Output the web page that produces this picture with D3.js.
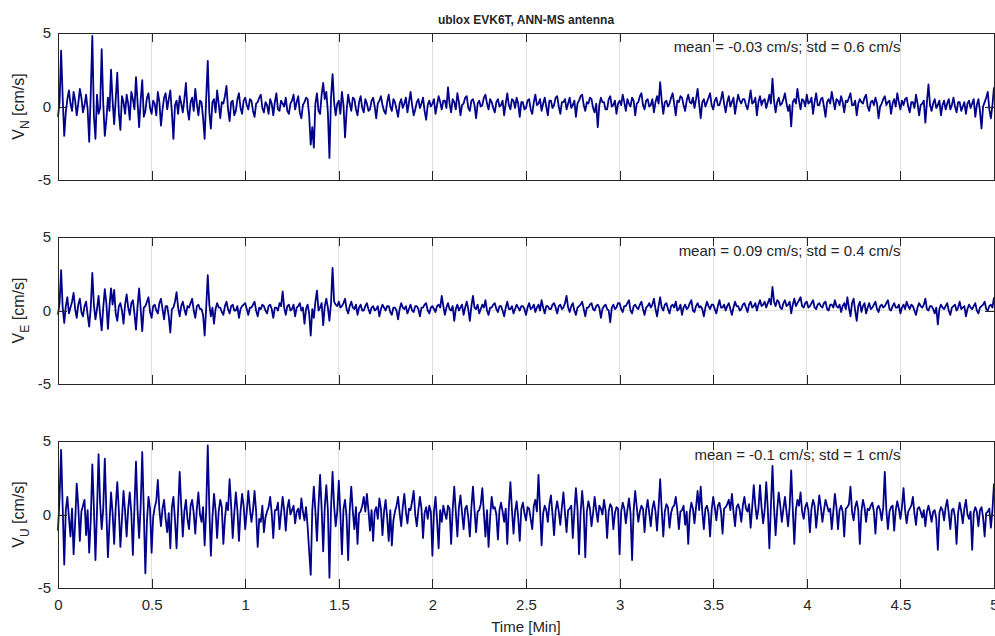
<!DOCTYPE html>
<html><head><meta charset="utf-8">
<script src="https://cdn.jsdelivr.net/npm/d3@7"></script>
<style>
body{margin:0;background:#fff}
svg text{font-family:"Liberation Sans",Arial,Helvetica,sans-serif;fill:#262626}
</style></head>
<body><svg id="c" width="995" height="636"></svg>
<script>
// ---- data ----
const sampleStepSeconds = 0.5; // samples every 0.5 s, 0..300 s
const xTicks = [0, 0.5, 1, 1.5, 2, 2.5, 3, 3.5, 4, 4.5, 5];
const xTickLabels = ["0","0.5","1","1.5","2","2.5","3","3.5","4","4.5","5"];
const yTicks = [-5, 0, 5];
const yTickLabels = ["-5","0","5"];
const titleText = "ublox EVK6T, ANN-MS antenna";
const xLabel = "Time [Min]";
const seriesNames = ["N", "E", "U"];
const statTexts = ["mean = -0.03 cm/s; std = 0.6 cm/s", "mean = 0.09 cm/s; std = 0.4 cm/s", "mean = -0.1 cm/s; std = 1 cm/s"];

const vN = [
-0.7,0.3,3.8,0.6,-2.0,-0.4,0.5,1.1,0.2,-0.3,1.0,0.4,-0.6,0.2,1.2,0.6,-0.4,0.1,0.8,-0.2,
-2.4,0.9,4.8,-0.6,-2.2,0.8,-0.5,-0.1,3.9,0.2,-2.0,-0.9,0.6,-0.3,2.5,0.4,-1.2,0.5,2.3,-0.4,
-1.6,0.7,0.3,-0.5,0.8,0.2,-0.9,1.0,0.5,-0.2,2.0,0.3,-1.4,0.4,1.8,-0.7,-0.3,0.6,0.9,-0.1,
-0.5,0.4,0.2,-0.6,1.0,0.3,-1.3,-0.2,0.6,0.9,-0.2,0.5,1.1,-0.4,-2.2,0.1,0.4,-0.5,0.7,0.2,
-0.4,0.5,1.6,-0.2,-0.9,0.3,0.6,-0.3,1.2,0.2,-0.6,0.4,0.3,-0.8,-2.2,0.6,3.1,-0.4,-1.5,0.3,
0.5,-0.4,1.1,0.2,-0.8,0.3,0.2,0.7,1.4,-0.2,-1.0,0.3,0.4,-0.6,-0.3,0.5,0.9,-0.1,-0.5,0.4,
0.6,0.1,-0.2,0.5,0.4,-0.3,-0.7,0.2,0.3,0.6,0.8,-0.1,-0.4,0.3,0.1,-0.5,0.5,0.2,-0.6,0.3,
0.9,-0.2,-0.3,0.4,0.2,0.0,0.6,-0.3,-0.5,0.2,0.4,0.8,-0.2,0.3,0.7,-0.4,-0.8,0.1,0.3,0.6,
0.5,-0.6,-2.6,-1.4,-2.8,0.2,0.9,-0.3,-0.5,0.8,1.6,0.5,1.0,-0.4,-3.5,0.6,2.2,0.3,-0.6,0.2,
0.4,-0.5,1.0,0.1,-2.1,-0.3,0.8,0.2,-0.3,0.6,0.5,-0.2,-0.6,0.3,0.7,-0.1,-0.4,0.5,0.2,-0.3,
-0.2,0.4,0.6,0.0,-0.8,0.2,0.4,0.7,0.1,-0.3,-0.5,0.3,0.8,0.0,-0.3,0.5,0.3,-0.2,-0.7,0.2,
0.5,-0.1,0.2,0.6,-0.4,0.3,1.0,0.1,-0.6,-0.2,0.3,0.5,-0.1,0.2,0.6,-0.3,-0.9,0.1,0.4,0.0,
0.2,0.5,-0.5,0.1,0.7,0.3,-0.2,0.4,0.4,-0.1,1.3,0.2,-0.4,0.5,0.3,-0.2,0.9,0.3,-0.6,0.1,
0.2,0.6,0.7,-0.1,-0.3,0.4,0.5,0.1,-0.8,0.2,0.4,0.0,0.1,0.6,0.8,0.2,-0.2,0.5,0.3,-0.1,
-0.4,0.3,0.5,0.0,0.1,0.4,-0.6,0.2,0.9,0.1,-0.2,0.5,0.4,-0.1,0.6,0.2,-0.7,0.3,0.3,-0.2,
-0.1,0.4,0.5,-0.2,-0.5,0.3,0.8,0.1,0.2,0.5,-0.3,0.2,0.6,0.0,-0.6,0.4,0.4,-0.1,0.1,0.6,
0.7,0.0,-0.5,0.3,0.3,0.5,-0.2,0.2,0.6,-0.1,0.1,0.4,-0.7,0.2,0.4,0.7,0.8,0.1,-0.3,0.3,
0.2,0.6,0.5,-0.1,-0.4,0.2,-1.4,0.1,0.6,0.3,0.3,-0.2,-0.2,0.5,0.7,0.0,0.1,0.4,-0.5,0.2,
0.4,0.1,0.8,0.3,-0.3,0.5,0.2,0.0,0.6,0.4,-0.6,0.2,0.3,0.7,0.9,0.1,-0.2,0.4,0.5,0.0,
0.1,0.5,-0.4,0.3,0.7,0.2,1.65,0.4,-0.5,0.3,0.4,0.0,0.2,0.6,0.9,0.2,-0.6,0.4,0.3,0.7,
0.6,0.1,-0.3,0.4,0.8,0.3,0.2,0.6,-0.1,0.5,1.2,0.2,-0.8,0.3,0.5,0.0,0.3,0.6,0.9,0.1,
-0.2,0.4,0.6,0.1,0.1,0.5,1.0,0.2,-0.4,0.3,0.7,0.0,0.3,0.6,-0.5,0.2,0.8,0.4,0.2,0.5,
0.5,0.1,-0.2,0.4,1.1,0.2,0.3,0.6,-0.6,0.3,0.7,0.1,0.4,0.5,-0.1,0.3,0.8,0.2,1.9,0.4,
-0.4,0.3,0.6,0.1,0.2,0.5,0.9,0.2,-0.3,0.1,-1.35,0.3,0.5,0.2,1.2,0.4,-0.2,0.5,0.4,0.0,
0.8,0.2,0.3,0.6,-0.5,0.3,0.9,0.1,0.1,0.5,0.6,0.0,-0.7,0.3,0.5,0.2,1.0,0.4,-0.2,0.5,
0.4,0.1,0.7,0.3,-0.4,0.4,0.3,0.6,0.9,0.1,0.1,0.4,-0.6,0.2,0.5,0.3,0.2,0.6,0.8,0.0,
-0.3,0.3,0.4,0.1,0.6,0.2,-0.8,0.0,0.2,0.5,0.7,0.1,0.3,0.4,-0.5,0.2,0.5,0.0,0.9,0.3,
-0.2,0.4,0.1,0.5,0.6,0.0,-0.4,0.3,0.3,-0.1,0.8,0.2,-0.6,0.1,0.2,0.4,-1.1,0.3,1.5,0.1,
-0.3,0.2,0.5,-0.1,0.1,0.4,-0.6,0.1,0.4,-0.2,0.2,0.5,-0.2,0.1,0.6,0.0,-0.4,0.3,0.3,-0.3,
0.0,0.3,-0.5,0.2,0.4,-0.1,0.2,0.5,-0.7,0.1,0.5,-0.3,-1.5,0.0,0.3,0.6,1.0,-0.2,-0.8,0.1,
1.3];

const vE = [
-0.3,0.5,2.75,0.2,-0.85,0.3,0.9,-0.2,0.2,0.6,1.2,0.1,-0.5,0.4,0.8,-0.1,-0.4,0.3,0.6,-0.3,
-1.1,0.2,2.55,0.4,-0.6,0.1,1.0,-0.3,-1.35,0.2,1.45,0.5,-1.25,0.3,1.5,0.4,1.4,-0.2,-0.7,0.3,
0.5,0.0,-0.9,0.4,1.1,0.2,-0.3,0.5,0.7,-0.2,-1.3,0.3,1.5,0.1,-1.4,0.2,0.3,0.6,0.9,-0.1,
-0.5,0.3,0.4,0.0,-0.2,0.5,0.8,0.1,-0.6,0.3,0.3,-0.4,-1.5,0.1,0.2,0.6,1.25,0.2,-0.4,0.3,
0.6,0.1,-0.3,0.3,0.2,0.5,0.8,0.0,-0.5,0.3,0.4,0.1,0.1,-0.3,-1.7,0.2,2.4,0.4,-0.4,0.2,
-0.9,0.1,0.5,0.2,0.2,-0.1,-0.3,0.3,0.6,0.1,-0.2,0.3,0.4,0.0,0.0,0.3,-0.5,0.1,0.3,0.4,
0.5,0.1,-0.3,0.2,0.2,0.4,0.6,0.0,-0.4,0.2,0.1,0.4,0.3,0.0,-0.2,0.3,0.4,0.1,-0.5,0.2,
0.2,0.0,0.5,0.3,1.3,0.2,-0.3,0.3,0.4,0.0,0.1,0.4,-0.4,0.2,0.3,0.5,0.0,0.2,-0.9,0.1,
0.4,-0.2,-1.7,0.1,-0.5,0.6,1.35,0.0,0.2,0.5,-1.0,0.3,0.8,0.2,-0.7,0.5,2.9,0.6,0.4,0.3,
0.6,0.2,0.3,0.5,0.8,0.1,-0.2,0.3,0.6,0.2,0.1,0.4,-0.3,0.2,0.4,0.0,0.0,0.3,0.5,0.1,
-0.2,0.2,0.3,0.0,0.1,0.3,-0.4,0.1,0.4,0.2,0.0,0.3,0.3,-0.1,-0.3,0.2,0.2,0.0,-0.6,0.1,
0.5,0.2,0.1,0.3,-0.2,0.1,0.4,0.0,-0.1,0.3,0.3,0.1,-0.4,0.2,0.2,0.4,0.5,0.0,-0.2,0.2,
0.3,0.1,-0.1,0.3,0.4,0.2,1.0,0.3,-0.3,0.2,0.5,0.1,0.0,0.3,-0.7,0.1,0.4,0.0,0.2,0.4,
-0.3,0.2,0.6,0.1,-0.7,0.3,1.0,0.2,0.1,0.4,-0.2,0.1,0.4,0.2,0.7,0.0,-0.3,0.2,0.2,0.4,
0.5,0.1,-0.1,0.3,0.3,0.0,-0.4,0.2,0.6,0.1,0.1,0.3,-0.2,0.1,0.4,0.2,0.0,0.3,0.3,0.1,
-0.3,0.2,0.5,0.1,0.2,0.4,-0.1,0.2,0.4,0.0,0.7,0.2,-0.2,0.3,0.3,0.1,0.1,0.4,0.5,0.2,
-0.2,0.3,0.4,0.1,0.2,0.5,1.0,0.2,-0.1,0.3,0.5,0.0,-0.3,0.2,0.3,0.4,0.6,0.1,-0.4,0.2,
0.2,0.4,0.5,0.1,0.0,0.3,0.4,0.2,-0.5,0.1,0.3,0.4,0.1,0.0,-0.8,0.2,0.4,0.1,0.2,0.5,
0.5,0.1,-0.1,0.3,0.3,0.5,0.7,0.0,-0.2,0.3,0.4,0.2,0.1,0.4,0.6,0.1,-0.3,0.2,0.3,0.5,
0.2,0.4,0.8,0.1,-0.4,0.3,0.9,0.2,0.0,0.4,0.5,0.1,-0.2,0.3,0.4,0.2,0.6,0.0,0.1,0.4,
-0.3,0.2,0.4,0.1,0.2,0.5,0.7,0.0,-0.1,0.3,0.5,0.2,0.3,0.1,-0.4,0.2,0.6,0.3,0.1,0.4,
0.4,0.1,-0.2,0.3,0.7,0.2,0.2,0.4,0.0,0.3,0.5,0.1,-0.3,0.2,0.6,0.3,0.3,0.0,0.1,0.4,
0.5,0.2,-0.1,0.4,0.6,0.2,0.3,0.5,0.0,0.4,0.7,0.3,0.4,0.6,0.2,0.5,0.8,0.4,1.6,0.6,
0.3,0.7,0.6,0.2,0.1,0.5,0.7,0.3,0.4,0.6,-0.2,0.4,0.8,0.3,0.5,0.7,0.9,0.3,0.2,0.5,
0.6,0.2,0.3,0.5,0.7,0.2,0.1,0.4,0.5,0.3,0.2,0.5,0.6,0.1,0.0,0.4,0.4,0.2,0.7,0.3,
0.2,0.4,-0.1,0.3,0.5,0.1,0.9,0.2,-0.4,0.5,0.8,0.0,-0.7,0.3,0.6,-0.1,0.3,0.5,-0.2,0.2,
0.5,0.1,0.2,0.4,0.6,0.1,-0.1,0.3,0.4,0.2,0.3,0.5,0.7,0.1,0.0,0.3,0.5,0.2,0.2,0.4,
-0.2,0.2,0.4,0.1,0.6,0.3,0.1,0.4,0.3,0.0,-0.3,0.2,0.5,0.3,0.2,0.4,0.8,0.1,0.0,0.3,
0.3,0.1,-0.2,0.2,-0.95,0.1,0.4,0.2,0.1,0.3,0.5,0.0,-0.3,0.2,0.3,0.4,0.0,0.2,0.6,0.1,
0.2,0.3,-0.4,0.1,0.4,0.2,0.1,0.3,0.5,0.0,-0.2,0.2,0.3,0.4,0.6,0.1,0.0,0.3,0.4,0.2,
0.9];

const vU = [
-1.1,1.2,4.4,0.5,-3.4,0.3,1.2,-0.2,-1.5,0.4,-2.7,-0.5,2.1,0.6,-1.8,0.2,0.6,1.0,-1.4,0.3,
-2.6,-0.4,3.4,0.5,-3.1,0.2,4.1,0.8,-1.0,0.4,3.8,0.2,-2.9,-0.6,1.5,0.1,-2.0,0.5,2.2,0.3,
-2.2,-0.3,1.6,0.2,-1.5,0.4,1.5,0.1,-2.75,0.5,3.6,0.3,-1.6,0.6,4.25,0.2,-4.0,-0.5,1.2,0.4,
-2.6,-0.2,0.5,0.9,2.35,0.3,-0.8,0.4,1.0,-0.3,-1.2,0.1,-2.3,0.5,1.2,-0.4,-2.3,0.3,2.9,0.6,
-1.5,0.2,1.0,-0.3,-1.0,0.6,1.0,0.1,-1.3,0.4,1.5,0.0,-0.5,0.5,-2.1,0.3,4.7,0.4,-2.8,-0.2,
1.4,0.3,-1.6,0.2,1.0,0.5,-2.0,-0.3,0.8,0.3,2.4,0.6,-1.6,0.1,1.5,0.3,-1.8,0.2,1.4,0.6,
-1.0,0.2,1.6,0.4,-0.5,0.3,1.6,0.2,-2.2,-0.3,-0.5,0.6,-1.2,-0.2,0.2,0.5,1.2,0.1,-1.6,0.3,
0.3,0.8,-1.0,0.1,1.2,0.3,-1.1,0.4,1.0,0.0,0.3,0.6,-0.6,0.2,0.4,-0.3,1.1,0.2,-0.4,0.5,
-0.8,-2.5,-4.1,0.3,1.9,0.2,-1.8,0.6,2.7,0.4,-2.5,0.5,2.0,0.3,-4.3,0.4,2.9,0.6,-0.8,0.2,
2.3,0.1,-2.7,0.4,1.0,-0.2,-3.1,0.3,1.9,0.2,-1.0,0.5,-2.0,0.1,0.2,0.6,1.2,0.2,1.4,0.3,
-1.1,0.3,-1.8,0.2,0.5,-0.3,1.1,0.4,-1.4,0.2,1.0,-0.2,-1.8,0.3,-2.1,-0.4,0.2,0.6,1.2,0.1,
-0.8,0.5,1.4,0.2,-0.6,0.4,0.3,0.9,1.6,0.0,-0.8,0.3,1.2,0.4,-1.6,0.1,0.5,-0.3,0.6,0.2,
-2.8,0.2,1.2,-0.4,-2.3,0.3,-0.5,0.6,0.1,-0.3,0.6,0.4,-2.0,0.3,1.9,0.2,-1.5,0.5,1.3,0.1,
-1.0,0.4,0.6,-0.2,-1.5,0.5,1.9,0.3,-1.2,0.2,0.3,0.7,1.8,0.1,-1.5,0.3,-2.2,-0.2,1.2,0.4,
0.5,0.0,-1.7,0.3,0.8,0.2,-0.5,0.4,-2.0,0.5,2.2,0.3,-1.3,0.2,0.9,-0.2,-1.8,0.4,0.8,0.1,
-0.4,0.5,0.4,-0.3,-1.0,0.6,1.0,0.2,2.7,0.4,-2.1,0.1,0.6,0.3,-0.5,0.7,1.3,0.0,-1.4,0.3,
0.9,0.2,-0.7,0.5,1.5,0.1,-1.2,0.3,0.4,0.6,-1.6,0.2,1.8,0.4,-2.7,0.1,1.6,0.3,-2.9,0.2,
0.9,0.4,-0.8,0.1,1.2,0.3,-0.5,0.6,0.4,0.0,1.0,0.3,-1.6,0.2,0.7,0.5,-1.0,0.1,0.5,0.4,
-2.7,0.2,0.8,0.4,-0.6,0.3,1.1,0.1,-3.1,0.3,1.6,0.5,-0.5,0.2,0.6,0.4,-1.2,0.3,1.0,0.1,
-0.8,0.4,0.9,0.2,-1.1,0.5,2.4,0.3,-1.5,0.2,0.7,0.5,-0.9,0.1,0.5,0.6,1.2,0.3,-1.0,0.2,
0.3,0.6,-0.7,0.2,-2.0,0.1,0.8,0.4,-0.6,0.5,1.6,0.3,1.9,0.2,-1.0,0.4,0.6,0.1,-1.5,0.3,
1.2,0.5,-0.4,0.6,0.8,0.2,-1.3,0.4,0.5,0.7,1.0,0.3,1.4,0.2,-0.8,0.5,0.7,0.3,-0.5,0.6,
1.2,0.4,0.2,0.7,-0.9,0.5,2.0,0.6,-0.3,0.4,2.0,0.5,-0.6,0.3,2.2,0.4,-2.3,0.6,3.3,0.5,
-1.4,0.3,1.5,0.6,-0.5,0.4,1.2,0.2,-0.8,0.5,3.0,0.4,-2.0,0.3,1.0,0.6,1.5,0.2,-0.3,0.5,
0.8,0.3,-1.2,0.4,1.0,0.6,-0.9,0.2,1.3,0.5,-0.5,0.3,1.0,0.6,0.2,0.4,-1.0,0.2,1.4,0.5,
-1.0,0.3,0.6,0.2,-1.5,0.4,0.5,0.7,1.9,0.2,-0.4,0.5,0.9,0.3,-2.0,0.2,1.0,0.5,-0.5,0.4,
0.3,0.6,0.8,0.2,-1.3,0.4,0.6,0.3,-0.4,0.5,2.9,0.3,-1.0,0.2,0.5,0.6,-1.1,0.3,0.9,0.4,
-0.3,0.5,1.8,0.3,-0.6,0.2,0.4,0.6,1.2,0.1,-0.7,0.4,0.5,0.2,-0.2,0.3,-0.8,0.2,0.6,0.1,
-0.5,0.2,0.3,-0.3,-2.4,0.1,0.5,0.3,-0.4,0.5,1.0,0.1,-1.0,0.3,0.4,-0.2,-2.0,0.1,0.8,0.2,
-0.6,0.4,1.0,0.0,-0.3,0.2,-2.4,0.1,0.5,0.2,-0.8,0.3,0.5,-0.2,-1.5,0.1,0.2,0.4,-0.9,0.3,
2.1];

const seriesValues = [vN, vE, vU];

// ---- layout ----
const left = 58, right = 994;
const panelTops = [33, 237, 441];
const panelH = 147;
const tickLen = 9.35;
const axisColor = "#262626";
const lineColor = "#00008B";
const fontSize = 15;

const svg = d3.select("#c");
const x = d3.scaleLinear().domain([0, 5]).range([left, right]);

seriesValues.forEach((vals, p) => {
  const top = panelTops[p];
  const y = d3.scaleLinear().domain([-5, 5]).range([top + panelH, top]);
  const g = svg.append("g");

  // grid
  g.append("g").selectAll("line").data(xTicks.slice(1, -1)).join("line")
    .attr("x1", d => x(d)).attr("x2", d => x(d))
    .attr("y1", top).attr("y2", top + panelH)
    .attr("stroke", "#dfdfdf").attr("stroke-width", 1).attr("shape-rendering", "crispEdges");
  g.append("line").attr("x1", left).attr("x2", right).attr("y1", y(0)).attr("y2", y(0))
    .attr("stroke", "#dfdfdf").attr("stroke-width", 1).attr("shape-rendering", "crispEdges");

  // data line
  const pts = vals.map((v, i) => [i * sampleStepSeconds / 60, v]);
  g.append("path").datum(pts)
    .attr("fill", "none").attr("stroke", lineColor).attr("stroke-width", 1.8)
    .attr("stroke-linejoin", "round")
    .attr("d", d3.line().x(d => x(d[0])).y(d => y(d[1])));

  // axes
  const isLast = p === seriesValues.length - 1;
  const axB = g.append("g").attr("transform", `translate(0,${top + panelH})`)
    .call(d3.axisBottom(x).tickValues(xTicks).tickSizeInner(-tickLen).tickSizeOuter(0).tickPadding(11)
      .tickFormat((d, i) => isLast ? xTickLabels[i] : ""));
  const axT = g.append("g").attr("transform", `translate(0,${top})`)
    .call(d3.axisTop(x).tickValues(xTicks).tickSizeInner(-tickLen).tickSizeOuter(0).tickFormat(""));
  const axL = g.append("g").attr("transform", `translate(${left},0)`)
    .call(d3.axisLeft(y).tickValues(yTicks).tickSizeInner(-tickLen).tickSizeOuter(0).tickPadding(7)
      .tickFormat((d, i) => yTickLabels[i]));
  const axR = g.append("g").attr("transform", `translate(${right},0)`)
    .call(d3.axisRight(y).tickValues(yTicks).tickSizeInner(-tickLen).tickSizeOuter(0).tickFormat(""));
  [axB, axT, axL, axR].forEach(a => {
    a.select(".domain").attr("stroke", axisColor).attr("stroke-width", 1).attr("shape-rendering", "crispEdges");
    a.selectAll(".tick line").attr("stroke", axisColor).attr("stroke-width", 1).attr("shape-rendering", "crispEdges");
    a.selectAll(".tick text").attr("font-size", fontSize).attr("fill", axisColor)
      .attr("font-family", '"Liberation Sans",Arial,sans-serif');
  });

  // y label
  const cy = top + panelH / 2;
  const yl = g.append("text").attr("transform", `translate(24,${cy}) rotate(-90)`)
    .attr("text-anchor", "middle").attr("font-size", 16);
  yl.append("tspan").text("V");
  yl.append("tspan").attr("dy", 5).attr("font-size", 12).text(seriesNames[p]);
  yl.append("tspan").attr("dy", -5).text(" [cm/s]");

  // stats text
  g.append("text").attr("x", x(4.5)).attr("y", y(4)).attr("text-anchor", "end")
    .attr("dominant-baseline", "middle").attr("font-size", fontSize).text(statTexts[p]);
});

// title and x label
svg.append("text").attr("x", (left + right) / 2).attr("y", 24).attr("text-anchor", "middle")
  .attr("font-size", 12).attr("font-weight", "bold").text(titleText);
svg.append("text").attr("x", (left + right) / 2).attr("y", 632).attr("text-anchor", "middle")
  .attr("font-size", fontSize).text(xLabel);
</script></body></html>
